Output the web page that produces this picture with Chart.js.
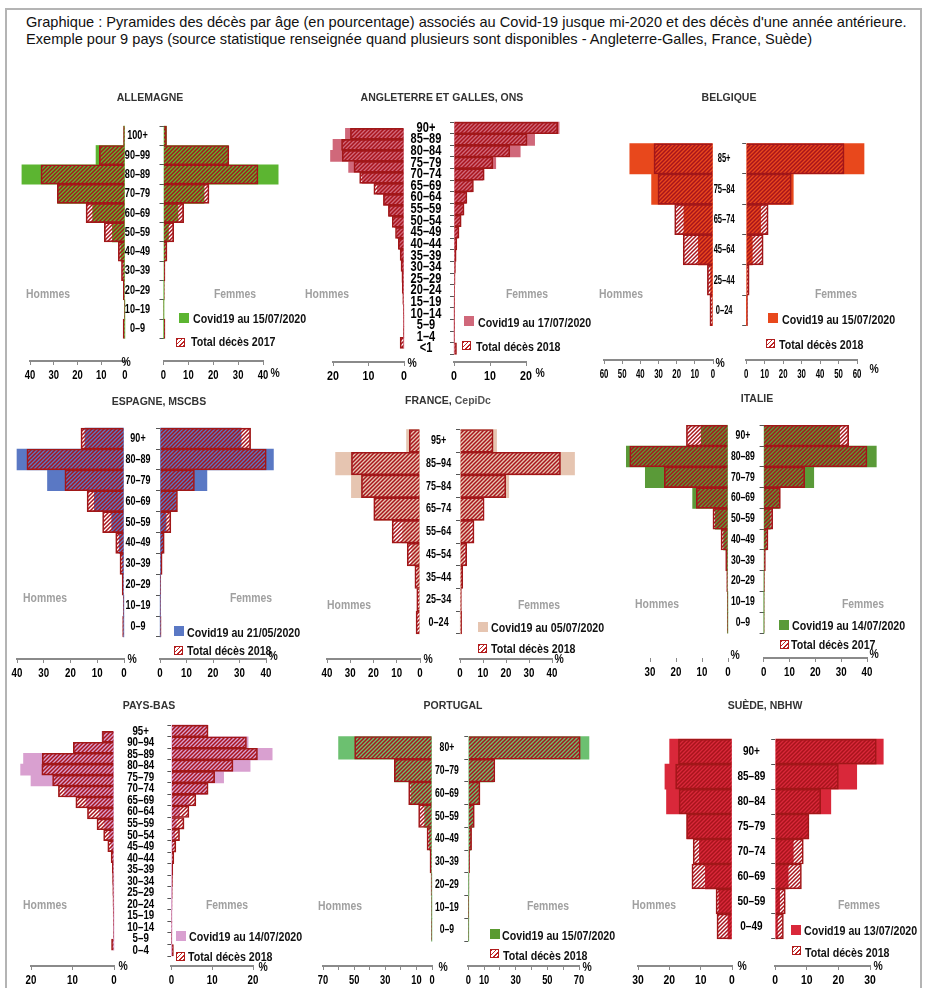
<!DOCTYPE html>
<html lang="fr">
<head>
<meta charset="utf-8">
<title>Pyramides des décès par âge</title>
<script src="https://cdn.jsdelivr.net/npm/chart.js@4.4.1/dist/chart.umd.min.js"></script>
<style>
  html, body { margin: 0; padding: 0; background: #fff; }
  #page { position: relative; width: 925px; height: 988px; overflow: hidden; font-family: 'Liberation Sans', Arial, sans-serif; }
  #frame { position: absolute; left: 5px; top: 8px; width: 917px; height: 1000px; border: 2px solid #b4b4b4; box-sizing: border-box; }
  #title { position: absolute; left: 26px; top: 14px; font-size: 14.6px; line-height: 17px; color: #111; white-space: nowrap; }
  canvas { position: absolute; }
  .c { position: absolute; white-space: nowrap; transform: translate(-50%, -50%) scaleX(0.8); }
  .l { position: absolute; white-space: nowrap; transform-origin: 0 50%; transform: translateY(-50%) scaleX(0.82); }
  .c.ptitle { transform: translate(-50%, -50%); }
  .ptitle { font: bold 10.5px 'Liberation Sans', Arial, sans-serif; color: #333; }
  .sex { font: bold 13px 'Liberation Sans', Arial, sans-serif; color: #a0a0a0; }
  .leg { font: bold 13px 'Liberation Sans', Arial, sans-serif; color: #111; }
  .pct { font: bold 13px 'Liberation Sans', Arial, sans-serif; color: #111; }
  .sw { position: absolute; width: 10px; height: 10px; }
  .swh { position: absolute; width: 9px; height: 9px; box-sizing: border-box; border: 1px solid #b01c1c;
         background: repeating-linear-gradient(135deg, #c02626 0 1.2px, #fff 1.2px 3px); }
</style>
</head>
<body>
<div id="page">
  <div id="frame"></div>
  <div id="title">Graphique : Pyramides des décès par âge (en pourcentage) associés au Covid-19 jusque mi-2020 et des décès d'une année antérieure.<br>Exemple pour 9 pays (source statistique renseignée quand plusieurs sont disponibles - Angleterre-Galles, France, Suède)</div>
</div>
<script>
// ---- Data: shares of deaths (%) by age group, listed from the oldest group down ----
// H = hommes, F = femmes

// Allemagne
const deAges = ['100+', '90–99', '80–89', '70–79', '60–69', '50–59', '40–49', '30–39', '20–29', '10–19', '0–9'];
const deCovidH = [0.5, 12.2, 43.4, 28.3, 13.6, 5.3, 1.8, 0.6, 0.2, 0.05, 0.05];
const deTotalH = [0.6, 10.8, 35.4, 28.5, 16.4, 8.7, 2.8, 1.5, 0.7, 0.3, 0.8];
const deCovidF = [1.2, 26.0, 46.1, 16.3, 5.8, 2.0, 0.7, 0.2, 0.1, 0.05, 0.05];
const deTotalF = [1.2, 26.3, 38.0, 18.3, 8.1, 4.1, 1.4, 0.6, 0.3, 0.2, 0.6];

// Angleterre et Galles
const enAges = ['90+', '85–89', '80–84', '75–79', '70–74', '65–69', '60–64', '55–59', '50–54', '45–49',
                '40–44', '35–39', '30–34', '25–29', '20–24', '15–19', '10–14', '5–9', '1–4', '<1'];
const enCovidH = [16.5, 20.0, 20.7, 15.6, 11.8, 7.5, 5.7, 4.2, 2.8, 1.9, 1.3, 0.8, 0.5, 0.3, 0.2, 0.1, 0.05, 0.03, 0.03, 0.05];
const enTotalH = [15.1, 17.6, 17.4, 14.1, 12.5, 8.5, 5.8, 4.4, 3.3, 2.4, 1.6, 1.1, 0.85, 0.6, 0.5, 0.35, 0.2, 0.15, 0.2, 1.1];
const enCovidF = [29.2, 22.4, 18.4, 11.6, 8.0, 5.0, 3.3, 2.5, 1.7, 1.1, 0.6, 0.4, 0.2, 0.1, 0.1, 0.05, 0.03, 0.02, 0.02, 0.05];
const enTotalF = [28.8, 20.3, 15.5, 10.8, 8.4, 5.4, 3.6, 2.8, 2.0, 1.4, 0.8, 0.6, 0.4, 0.3, 0.2, 0.2, 0.1, 0.1, 0.15, 0.7];

// Belgique
const beAges = ['85+', '75–84', '65–74', '45–64', '25–44', '0–24'];
const beCovidH = [45.8, 33.8, 16.0, 8.1, 1.3, 0.3];
const beTotalH = [32.5, 30.3, 21.1, 16.4, 3.1, 1.7];
const beCovidF = [63.8, 25.5, 7.8, 3.3, 0.5, 0.1];
const beTotalF = [53.0, 24.4, 11.9, 9.2, 1.6, 0.7];

// Espagne
const esAges = ['90+', '80–89', '70–79', '60–69', '50–59', '40–49', '30–39', '20–29', '10–19', '0–9'];
const esCovidH = [14.6, 40.0, 28.6, 11.1, 4.6, 1.8, 0.6, 0.2, 0.05, 0.05];
const esTotalH = [16.1, 36.3, 22.1, 13.8, 8.0, 3.1, 1.5, 0.7, 0.3, 0.5];
const esCovidF = [30.6, 42.8, 17.7, 6.1, 2.3, 1.0, 0.4, 0.1, 0.05, 0.05];
const esTotalF = [34.2, 40.1, 13.0, 6.6, 4.1, 1.6, 0.8, 0.3, 0.2, 0.4];

// France
const frAges = ['95+', '85–94', '75–84', '65–74', '55–64', '45–54', '35–44', '25–34', '0–24'];
const frCovidH = [5.8, 36.3, 29.5, 19.5, 7.5, 3.5, 1.2, 0.4, 0.2];
const frTotalH = [4.6, 29.5, 25.2, 19.9, 12.0, 5.5, 2.2, 1.4, 1.7];
const frCovidF = [15.9, 49.8, 21.2, 9.4, 4.3, 1.7, 0.6, 0.2, 0.1];
const frTotalF = [14.4, 43.7, 19.9, 10.5, 6.1, 2.9, 1.2, 0.6, 0.7];

// Italie
const itAges = ['90+', '80–89', '70–79', '60–69', '50–59', '40–49', '30–39', '20–29', '10–19', '0–9'];
const itCovidH = [10.3, 39.1, 31.8, 13.6, 4.9, 1.7, 0.5, 0.2, 0.05, 0.05];
const itTotalH = [16.0, 37.8, 24.5, 12.2, 5.8, 2.7, 0.9, 0.5, 0.3, 0.3];
const itCovidF = [29.4, 43.6, 19.4, 6.1, 2.6, 1.0, 0.3, 0.1, 0.05, 0.05];
const itTotalF = [32.9, 40.0, 15.9, 6.5, 3.5, 1.7, 0.7, 0.3, 0.2, 0.2];

// Pays-Bas
const nlAges = ['95+', '90–94', '85–89', '80–84', '75–79', '70–74', '65–69', '60–64', '55–59', '50–54',
                '45–49', '40–44', '35–39', '30–34', '25–29', '20–24', '15–19', '10–14', '5–9', '0–4'];
const nlCovidH = [2.9, 9.6, 21.8, 22.5, 20.0, 11.9, 6.7, 3.5, 2.3, 1.2, 0.6, 0.3, 0.1, 0.05, 0.05, 0.05, 0.02, 0.02, 0.02, 0.02];
const nlTotalH = [2.8, 9.8, 17.3, 17.4, 14.8, 13.4, 9.2, 6.4, 4.1, 2.5, 1.5, 0.7, 0.4, 0.35, 0.3, 0.25, 0.2, 0.15, 0.1, 0.6];
const nlCovidF = [8.7, 18.8, 24.7, 19.3, 12.8, 8.6, 4.3, 2.0, 1.2, 0.8, 0.4, 0.2, 0.05, 0.05, 0.02, 0.02, 0.02, 0.02, 0.02, 0.02];
const nlTotalF = [9.0, 18.4, 21.1, 15.1, 10.6, 9.0, 6.0, 4.3, 3.1, 2.0, 1.1, 0.6, 0.35, 0.25, 0.2, 0.15, 0.12, 0.1, 0.08, 0.5];

// Portugal
const ptAges = ['80+', '70–79', '60–69', '50–59', '40–49', '30–39', '20–29', '10–19', '0–9'];
const ptCovidH = [60.0, 24.0, 13.5, 4.7, 1.7, 0.5, 0.1, 0.05, 0.05];
const ptTotalH = [49.7, 24.2, 15.0, 8.6, 3.2, 1.3, 0.6, 0.3, 0.4];
const ptCovidF = [76.3, 15.8, 6.9, 3.2, 1.5, 0.3, 0.1, 0.05, 0.05];
const ptTotalF = [70.8, 16.8, 7.4, 3.8, 2.1, 0.8, 0.4, 0.2, 0.3];

// Suède
const seAges = ['90+', '85–89', '80–84', '75–79', '70–74', '60–69', '50–59', '0–49'];
const seCovidH = [19.9, 21.4, 20.9, 14.4, 10.4, 8.5, 4.2, 1.3];
const seTotalH = [17.1, 18.0, 16.9, 14.5, 12.4, 12.8, 5.1, 4.8];
const seCovidF = [34.2, 25.8, 17.6, 10.5, 5.7, 4.1, 1.4, 0.7];
const seTotalF = [32.0, 20.0, 14.4, 10.7, 8.9, 8.3, 3.2, 2.6];

// ---- Axis ticks (%) ----
const ticks20 = [0, 10, 20];
const ticks30 = [0, 10, 20, 30];
const ticks40 = [0, 10, 20, 30, 40];
const ticks60 = [0, 10, 20, 30, 40, 50, 60];
const ticks70 = [0, 10, 20, 30, 40, 50, 60, 70];
const ticks70Labelled = [0, 10, 30, 50, 70];

// ---- Panel texts ----
const panelTitles = ['ALLEMAGNE', 'ANGLETERRE ET GALLES, ONS', 'BELGIQUE', 'ESPAGNE, MSCBS',
  'FRANCE, <span style="color:#555">CepiDc</span>', 'ITALIE', 'PAYS-BAS', 'PORTUGAL', 'SUÈDE, NBHW'];
const legendCovid = ['Covid19 au 15/07/2020', 'Covid19 au 17/07/2020', 'Covid19 au 15/07/2020',
  'Covid19 au 21/05/2020', 'Covid19 au 05/07/2020', 'Covid19 au 14/07/2020',
  'Covid19 au 14/07/2020', 'Covid19 au 15/07/2020', 'Covid19 au 13/07/2020'];
const legendTotal = ['Total décès 2017', 'Total décès 2018', 'Total décès 2018', 'Total décès 2018',
  'Total décès 2018', 'Total décès 2017', 'Total décès 2018', 'Total décès 2018', 'Total décès 2018'];

// ---- Styling ----
const FONT = "'Liberation Sans', Arial, sans-serif";
const HATCH_COLOR = '#a8141c';
const TOTAL_BORDER = '#a01818';

// ---- Panel setup: series, colours and placement on the page ----
const panels = [
  { ages: deAges, cH: deCovidH, tH: deTotalH, cF: deCovidF, tF: deTotalF, color: '#5cb531',
    mTicks: ticks40, fTicks: ticks40, mMax: 40, fMax: 40,
    g: { mMaxPx: 30, mZero: 124.5, fZero: 163, fMaxPx: 262, ytop: 114.5, ybot: 347.5, yaxis: 360, labelX: 137,
         ageFont: 13, narrow: 0.7,
         title: [150, 97], hom: [47.5, 293], fem: [234.5, 293], pm: [126, 361], pf: [275, 372],
         leg: [179, 313, 193, 318, 176, 338, 191, 341] } },
  { ages: enAges, cH: enCovidH, tH: enTotalH, cF: enCovidF, tF: enTotalF, color: '#d0687a',
    mTicks: ticks20, fTicks: ticks20, mMax: 20, fMax: 20,
    g: { mMaxPx: 333, mZero: 403.5, fZero: 453.5, fMaxPx: 525, ytop: 116, ybot: 360, yaxis: 361.5, labelX: 425.5,
         ageFont: 14, narrow: 0.79,
         title: [442, 97], hom: [327, 293], fem: [527, 293], pm: [412, 362], pf: [540, 372],
         leg: [464, 316, 478, 322, 462, 341, 476, 346] } },
  { ages: beAges, cH: beCovidH, tH: beTotalH, cF: beCovidF, tF: beTotalF, color: '#e8481c',
    mTicks: ticks60, fTicks: ticks60, mMax: 60, fMax: 60,
    g: { mMaxPx: 604, mZero: 712.5, fZero: 745.7, fMaxPx: 856.7, ytop: 124.3, ybot: 342.3, yaxis: 360, labelX: 726.7,
         ageFont: 13, narrow: 0.58,
         title: [729, 97], hom: [621, 293], fem: [836, 293], pm: [720, 362], pf: [874, 368],
         leg: [768, 313, 782, 319, 766, 339, 779, 344] } },
  { ages: esAges, cH: esCovidH, tH: esTotalH, cF: esCovidF, tF: esTotalF, color: '#5a78c4',
    mTicks: ticks40, fTicks: ticks40, mMax: 40, fMax: 40,
    g: { mMaxPx: 17.3, mZero: 124, fZero: 160, fMaxPx: 265.7, ytop: 416, ybot: 648, yaxis: 659, labelX: 138,
         ageFont: 12.5, narrow: 0.72,
         title: [159, 401], hom: [45, 597], fem: [251, 597], pm: [132, 658], pf: [273, 655],
         leg: [174, 626, 187, 632, 174, 646, 187, 650] } },
  { ages: frAges, cH: frCovidH, tH: frTotalH, cF: frCovidF, tF: frTotalF, color: '#e6c5b1',
    mTicks: ticks40, fTicks: ticks40, mMax: 40, fMax: 40,
    g: { mMaxPx: 327.3, mZero: 420, fZero: 460, fMaxPx: 552.3, ytop: 416, ybot: 646, yaxis: 659, labelX: 440,
         ageFont: 12.5, narrow: 0.72,
         title: [448, 400], hom: [349, 604], fem: [538.5, 604], pm: [428, 658], pf: [559, 658],
         leg: [478, 622, 491, 627, 478, 644, 491, 648] } },
  { ages: itAges, cH: itCovidH, tH: itTotalH, cF: itCovidF, tF: itTotalF, color: '#5a9a38',
    mTicks: ticks30, fTicks: ticks40, mMax: 40, fMax: 40, mNoLine: true,
    g: { mMaxPx: 623.7, mZero: 727.7, fZero: 763.3, fMaxPx: 866.7, ytop: 412.7, ybot: 644, yaxis: 658, labelX: 745,
         ageFont: 12, narrow: 0.72,
         title: [757, 398], hom: [656.5, 603], fem: [863, 603], pm: [735, 654], pf: [874, 653],
         leg: [779, 620, 792, 625, 780, 640, 791, 644] } },
  { ages: nlAges, cH: nlCovidH, tH: nlTotalH, cF: nlCovidF, tF: nlTotalF, color: '#d9a0d0',
    mTicks: ticks20, fTicks: ticks20, mMax: 20, fMax: 20,
    g: { mMaxPx: 30.7, mZero: 113.3, fZero: 171.7, fMaxPx: 253.3, ytop: 719.3, ybot: 962, yaxis: 966, labelX: 141,
         ageFont: 13.5, narrow: 0.72,
         title: [149, 705], hom: [45, 904], fem: [227, 904], pm: [123, 965], pf: [263, 966],
         leg: [176, 931, 189, 936, 176, 952, 188, 956] } },
  { ages: ptAges, cH: ptCovidH, tH: ptTotalH, cF: ptCovidF, tF: ptTotalF, color: '#6cc070', legColor: '#5a9a30',
    mTicks: ticks70, fTicks: ticks70, mMax: 70, fMax: 70, shown: ticks70Labelled,
    g: { mMaxPx: 322.7, mZero: 432, fZero: 468.3, fMaxPx: 579.3, ytop: 723.3, ybot: 953.3, yaxis: 966, labelX: 452.7,
         ageFont: 12.5, narrow: 0.69,
         title: [453, 705], hom: [340, 905], fem: [548, 905], pm: [443, 966], pf: [587, 966],
         leg: [490, 929, 502, 935, 490, 949, 503, 955] } },
  { ages: seAges, cH: seCovidH, tH: seTotalH, cF: seCovidF, tF: seTotalF, color: '#d9283a',
    mTicks: ticks30, fTicks: ticks30, mMax: 30, fMax: 30,
    g: { mMaxPx: 638.3, mZero: 732.3, fZero: 775.5, fMaxPx: 870, ytop: 724.3, ybot: 952.3, yaxis: 966, labelX: 751.7,
         ageFont: 13, narrow: 0.77,
         title: [765, 705], hom: [653.5, 904], fem: [859, 904], pm: [742, 965], pf: [878, 965],
         leg: [791, 925, 804, 930, 792, 946, 805, 952] } }
];

const page = document.getElementById('page');
const measureCtx = document.createElement('canvas').getContext('2d');

// Diagonal "////" hatch for the total-deaths bars; transparent gaps let the Covid bar show through.
function makeHatch() {
  const s = 4;
  const tile = document.createElement('canvas');
  tile.width = s; tile.height = s;
  const t = tile.getContext('2d');
  t.strokeStyle = HATCH_COLOR;
  t.lineWidth = 1.5;
  t.beginPath();
  t.moveTo(0, s); t.lineTo(s, 0);
  t.moveTo(-1, 1); t.lineTo(1, -1);
  t.moveTo(s - 1, s + 1); t.lineTo(s + 1, s - 1);
  t.stroke();
  return measureCtx.createPattern(tile, 'repeat');
}
const hatch = makeHatch();

// Condensed axis lettering: every label is squeezed horizontally around its own anchor point.
const narrowText = {
  id: 'narrowText',
  beforeDraw(chart, args, opts) {
    const ctx = chart.ctx;
    if (ctx.__narrow) return;
    const orig = ctx.fillText;
    const f = opts.factor || 1;
    ctx.fillText = function (text, x, y) {
      this.save();
      this.translate(x, y);
      this.scale(f, 1);
      orig.call(this, text, 0, 0);
      this.restore();
    };
    ctx.__narrow = true;
  }
};

function addText(cls, html, x, y, centered) {
  const d = document.createElement('div');
  d.className = (centered ? 'c ' : 'l ') + cls;
  d.innerHTML = html;
  d.style.left = x + 'px';
  d.style.top = y + 'px';
  page.appendChild(d);
  return d;
}

function addCanvas(left, top, w, h) {
  const c = document.createElement('canvas');
  c.width = Math.round(w); c.height = Math.round(h);
  c.style.left = Math.round(left) + 'px';
  c.style.top = Math.round(top) + 'px';
  c.style.width = Math.round(w) + 'px';
  c.style.height = Math.round(h) + 'px';
  page.appendChild(c);
  return c;
}

const PAD_TOP = 30;   // room above the plot for the top tick label
const X_AXIS_H = 26;  // height of the bottom axis band

function datasets(p, covid, total) {
  const n = p.ages.length;
  const pts = (arr) => arr.map((v, i) => ({ x: v, y: n - 1 - i }));
  const common = { grouped: false, categoryPercentage: 1, barPercentage: 1, clip: false };
  return [
    Object.assign({ label: 'Total', data: pts(total), backgroundColor: hatch, borderColor: TOTAL_BORDER,
                    borderWidth: 1, order: 0 }, common),
    Object.assign({ label: 'Covid19', data: pts(covid), backgroundColor: p.color, borderWidth: 0, order: 1 }, common)
  ];
}

function xScale(p, max, tickVals, reverse, noLine) {
  return {
    type: 'linear', min: 0, max: max, reverse: reverse,
    afterBuildTicks: (s) => { s.ticks = tickVals.map((v) => ({ value: v })); },
    ticks: {
      autoSkip: false, maxRotation: 0, padding: 2, color: '#000',
      font: { family: FONT, size: 13.5, weight: 'bold' },
      callback: (v) => (p.shown && !p.shown.includes(v)) ? '' : String(v)
    },
    grid: { drawOnChartArea: false, drawTicks: true, tickLength: 4, color: '#8a8a8a', tickWidth: 1 },
    border: { display: !noLine, color: '#8a8a8a', width: 2 },
    afterFit: (s) => { s.height = X_AXIS_H; }
  };
}

function yRange(p) {
  const g = p.g;
  const n = p.ages.length;
  const catH = (g.ybot - g.ytop) / n;
  const gap = (g.yaxis - g.ybot) / catH;
  return { min: -0.5 - gap, max: n - 0.5 };
}

function baseOptions(p) {
  return {
    indexAxis: 'y', responsive: false, animation: false, devicePixelRatio: 1, events: [],
    plugins: { legend: { display: false }, tooltip: { enabled: false }, narrowText: { factor: p.g.narrow } }
  };
}

panels.forEach((p, k) => {
  const g = p.g;
  const n = p.ages.length;
  const yr = yRange(p);
  const top = g.ytop - PAD_TOP;
  const h = PAD_TOP + (g.yaxis - g.ytop) + X_AXIS_H;
  const positions = p.ages.map((_, i) => i);

  // Hommes: bars grow to the left
  const mPadL = 30, mPadR = 10;
  const mc = addCanvas(g.mMaxPx - mPadL, top, (g.mZero - g.mMaxPx) + mPadL + mPadR, h);
  new Chart(mc, {
    type: 'bar',
    plugins: [narrowText],
    data: { datasets: datasets(p, p.cH, p.tH) },
    options: Object.assign(baseOptions(p), {
      layout: { padding: { left: mPadL, right: mPadR, top: PAD_TOP, bottom: 0 } },
      scales: {
        x: xScale(p, p.mMax, p.mTicks, true, p.mNoLine),
        y: { type: 'linear', display: false, min: yr.min, max: yr.max,
             afterBuildTicks: (s) => { s.ticks = positions.map((v) => ({ value: v })); } }
      }
    })
  });

  // Femmes: bars grow to the right, age groups on the axis between the two halves
  const ageFont = { family: FONT, size: g.ageFont, weight: 'bold' };
  measureCtx.font = 'bold ' + g.ageFont + 'px ' + FONT;
  const widest = Math.max(...p.ages.map((a) => measureCtx.measureText(a).width));
  const tickLen = 4;
  const labelPad = Math.max(0, g.fZero - tickLen - g.labelX - widest / 2);
  const yW = g.fZero - g.mZero + 12;
  const fPadR = 34;
  const fc = addCanvas(g.fZero - yW, top, yW + (g.fMaxPx - g.fZero) + fPadR, h);
  new Chart(fc, {
    type: 'bar',
    plugins: [narrowText],
    data: { datasets: datasets(p, p.cF, p.tF) },
    options: Object.assign(baseOptions(p), {
      layout: { padding: { left: 0, right: fPadR, top: PAD_TOP, bottom: 0 } },
      scales: {
        x: xScale(p, p.fMax, p.fTicks, false, false),
        y: {
          type: 'linear', position: 'left', min: yr.min, max: yr.max,
          afterBuildTicks: (s) => { s.ticks = positions.map((v) => ({ value: v })); },
          ticks: { autoSkip: false, crossAlign: 'center', padding: labelPad, color: '#000', font: ageFont,
                   callback: (v) => p.ages[n - 1 - v] },
          grid: { drawOnChartArea: false, drawTicks: true, tickLength: tickLen, color: '#555' },
          border: { display: false },
          afterFit: (s) => { s.width = yW; }
        }
      }
    })
  });

  // Titles, side labels, unit marks and legend
  addText('ptitle', panelTitles[k], g.title[0], g.title[1], true);
  addText('sex', 'Hommes', g.hom[0], g.hom[1], true);
  addText('sex', 'Femmes', g.fem[0], g.fem[1], true);
  addText('pct', '%', g.pm[0], g.pm[1], true);
  addText('pct', '%', g.pf[0], g.pf[1], true);

  const L = g.leg;
  const sw = document.createElement('div');
  sw.className = 'sw';
  sw.style.left = L[0] + 'px'; sw.style.top = L[1] + 'px';
  sw.style.background = p.legColor || p.color;
  page.appendChild(sw);
  addText('leg', legendCovid[k], L[2], L[3], false);
  const sh = document.createElement('div');
  sh.className = 'swh';
  sh.style.left = L[4] + 'px'; sh.style.top = L[5] + 'px';
  page.appendChild(sh);
  addText('leg', legendTotal[k], L[6], L[7], false);
});
</script>
</body>
</html>
